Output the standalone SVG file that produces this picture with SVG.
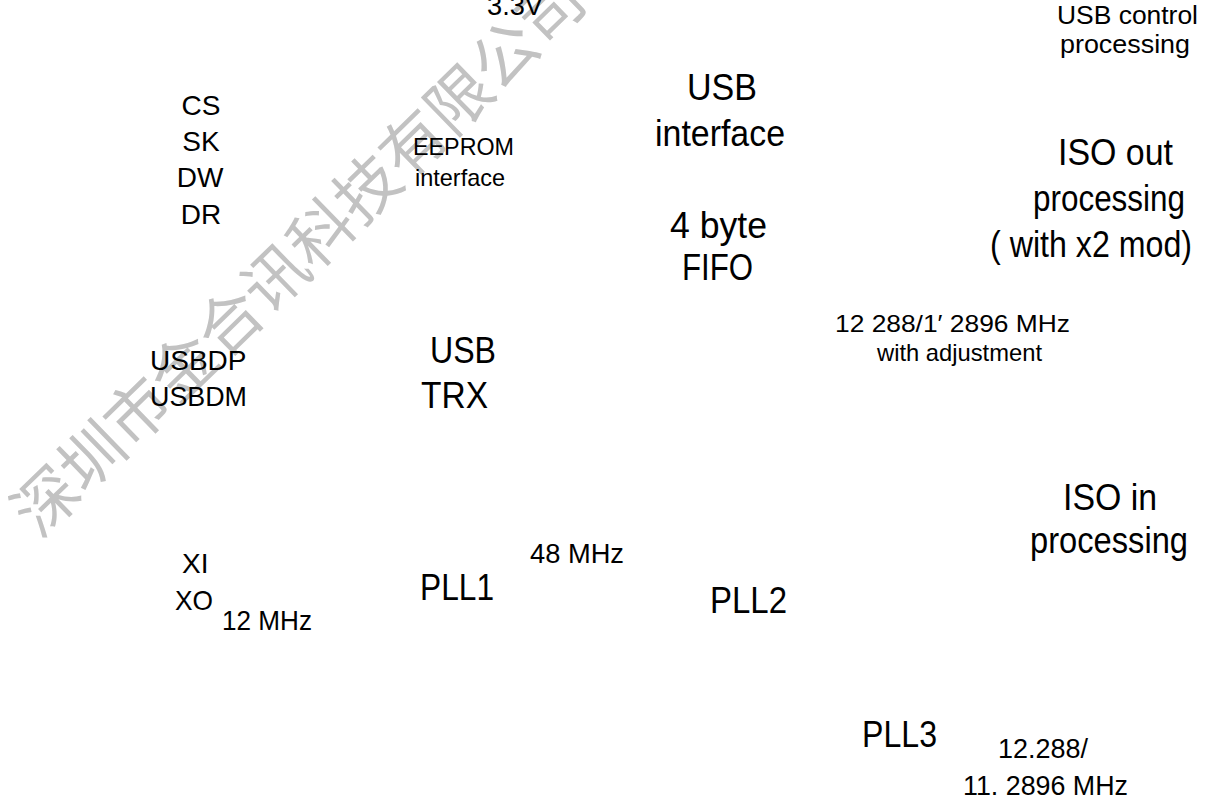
<svg xmlns="http://www.w3.org/2000/svg" width="1215" height="798" viewBox="0 0 1215 798">
<style>
text{font-family:"Liberation Sans",Arial,sans-serif;fill:#000}
.l{font-size:36px}
.m{font-size:28px}
.s{font-size:24px}
.c{text-anchor:middle}
.wm{font-family:"Noto Sans CJK SC","Noto Sans CJK TC",sans-serif;font-weight:400;font-size:64px;fill:#c2c2c2;text-anchor:middle;dominant-baseline:central}
</style>
<rect width="1215" height="798" fill="#fff"/>
<g id="watermark"><text class="wm" transform="translate(295 252) rotate(-44.2)">深圳市金合讯科技有限公司</text></g>
<g id="connectors"/>
<g id="supply"><text class="m" x="487" y="15" textLength="56" lengthAdjust="spacingAndGlyphs">3.3V</text></g>
<g id="eeprom-pins"><text class="m c" x="201" y="115">CS</text><text class="m c" x="201" y="151">SK</text><text class="m c" x="200" y="187">DW</text><text class="m c" x="201" y="224">DR</text></g>
<g id="eeprom-if"><text class="s" x="413" y="155" textLength="101" lengthAdjust="spacingAndGlyphs">EEPROM</text><text class="s" x="415" y="186" textLength="90" lengthAdjust="spacingAndGlyphs">interface</text></g>
<g id="usb-if"><text class="l" x="687" y="100" textLength="70" lengthAdjust="spacingAndGlyphs">USB</text><text class="l" x="655" y="146" textLength="130" lengthAdjust="spacingAndGlyphs">interface</text></g>
<g id="fifo"><text class="l" x="670" y="238" textLength="97" lengthAdjust="spacingAndGlyphs">4 byte</text><text class="l" x="682" y="280" textLength="71" lengthAdjust="spacingAndGlyphs">FIFO</text></g>
<g id="usb-ctrl"><text class="s" style="font-size:26px" x="1057" y="24" textLength="141" lengthAdjust="spacingAndGlyphs">USB control</text><text class="s" style="font-size:26px" x="1060" y="53" textLength="130" lengthAdjust="spacingAndGlyphs">processing</text></g>
<g id="iso-out"><text class="l" x="1058" y="165" textLength="115" lengthAdjust="spacingAndGlyphs">ISO out</text><text class="l" x="1033" y="211" textLength="152" lengthAdjust="spacingAndGlyphs">processing</text><text class="l" x="990" y="257" textLength="202" lengthAdjust="spacingAndGlyphs">( with x2 mod)</text></g>
<g id="clk-adj"><text class="s" x="835" y="332" textLength="235" lengthAdjust="spacingAndGlyphs">12 288/1′  2896 MHz</text><text class="s" x="877" y="361" textLength="165" lengthAdjust="spacingAndGlyphs">with adjustment</text></g>
<g id="usb-pins"><text class="m" x="150" y="370">USBDP</text><text class="m" x="150" y="406" textLength="97" lengthAdjust="spacingAndGlyphs">USBDM</text></g>
<g id="usb-trx"><text class="l" x="430" y="363" textLength="66" lengthAdjust="spacingAndGlyphs">USB</text><text class="l" x="421" y="408" textLength="67" lengthAdjust="spacingAndGlyphs">TRX</text></g>
<g id="iso-in"><text class="l" x="1063" y="510" textLength="94" lengthAdjust="spacingAndGlyphs">ISO in</text><text class="l" x="1030" y="553" textLength="158" lengthAdjust="spacingAndGlyphs">processing</text></g>
<g id="xtal"><text class="m" x="182" y="573">XI</text><text class="m" x="175" y="610" textLength="38" lengthAdjust="spacingAndGlyphs">XO</text><text class="m" x="222" y="630" textLength="90" lengthAdjust="spacingAndGlyphs">12 MHz</text></g>
<g id="pll1"><text class="l" x="420" y="600" textLength="74" lengthAdjust="spacingAndGlyphs">PLL1</text><text class="m" x="530" y="563" textLength="94" lengthAdjust="spacingAndGlyphs">48 MHz</text></g>
<g id="pll2"><text class="l" x="710" y="613" textLength="77" lengthAdjust="spacingAndGlyphs">PLL2</text></g>
<g id="pll3"><text class="l" x="862" y="747" textLength="75" lengthAdjust="spacingAndGlyphs">PLL3</text><text class="m" x="998" y="758" textLength="90" lengthAdjust="spacingAndGlyphs">12.288/</text><text class="m" x="963" y="795" textLength="165" lengthAdjust="spacingAndGlyphs">11. 2896 MHz</text></g>
</svg>
